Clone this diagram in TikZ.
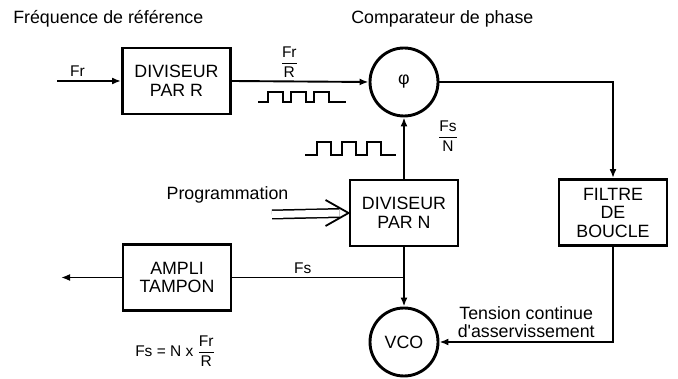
\documentclass[tikz,border=0pt]{standalone}
\usepackage{fontspec}
\setmainfont{Liberation Sans}
\usetikzlibrary{arrows.meta}
\newcommand{\fracsf}[2]{$\displaystyle\frac{\hbox{#1}}{\hbox{#2}}$}

\begin{document}
\begin{tikzpicture}[x=1pt, y=-1pt, line width=1.9pt, font=\fontsize{17.8}{18.5}\selectfont,
  bloc/.style={draw, line width=2.9pt, minimum width=108pt, minimum height=66pt, align=center, inner sep=0pt},
  rond/.style={draw, circle, line width=2.9pt, minimum size=68pt, inner sep=0pt},
  etiq/.style={font=\fontsize{15.5}{17}\selectfont},
  fleche/.style={-{Latex[length=9pt, width=7pt]}}]
  \useasboundingbox (0,0) rectangle (678,379);
  % titres
  \node[anchor=base west] (titreref) at (9,24) {Fréquence de référence};
  \node[anchor=base west] (titrecomp) at (347,24) {Comparateur de phase};
  % blocs
  \node[bloc] (divR) at (176.5,81) {DIVISEUR\\PAR R};
  \node[rond] (phi) at (404,82) {φ};
  \node[bloc] (divN) at (404,213) {DIVISEUR\\PAR N};
  \node[bloc] (filtre) at (613,212.5) {FILTRE\\DE\\BOUCLE};
  \node[bloc] (ampli) at (177,277.5) {AMPLI\\TAMPON};
  \node[rond] (vco) at (404,342) {VCO};
  \coordinate (entree) at (57,81);
  \coordinate (sortie) at (61,277.5);
  \coordinate (jonction) at (404,277.5);
  \coordinate (progdebut) at (272,214.5);
  \node (prog) at (227.5,195) {Programmation};
  \node[etiq] (fsN) at (448,136) {\fracsf{Fs}{N}};
  \node[etiq] (formule) at (175,351) {Fs = N x \fracsf{Fr}{R}};
  % liaisons
  \draw[fleche] (entree) -- node[etiq, above, pos=0.32] {Fr} (divR.west);
  \draw[fleche] (divR.east) -- node[etiq, above, pos=0.42] {\fracsf{Fr}{R}} (phi.west);
  \draw[fleche] (phi.east) -| (filtre.north);
  \draw[fleche] (divN.north) -- (phi.south);
  \draw[fleche] (divN.south) -- (vco.north);
  \draw (jonction) -- node[etiq, above, pos=0.59] {Fs} (ampli.east);
  \draw[fleche] (ampli.west) -- (sortie);
  \draw[fleche] (filtre.south) |- node[above, pos=0.75, align=center] {Tension continue\\d\textquotesingle asservissement} (vco.east);
  % double fleche
  \draw[double, double distance=7pt, line width=1.5pt] (progdebut) -- ([xshift=-9pt]divN.west);
  \draw[line width=1.8pt, line join=miter] ([shift={(-23,-13)}]divN.west) -- (divN.west) -- ([shift={(-23,13)}]divN.west);
  % creneaux
  \draw (258,102) -- ++(10,0) \foreach \i in {1,2,3} { -- ++(0,-10) -- ++(15,0) -- ++(0,10) -- ++(8,0) } -- ++(9,0);
  \draw (305,155) -- ++(12,0) \foreach \i in {1,2,3} { -- ++(0,-13) -- ++(14,0) -- ++(0,13) -- ++(11,0) } -- ++(4,0);
\end{tikzpicture}
\end{document}
